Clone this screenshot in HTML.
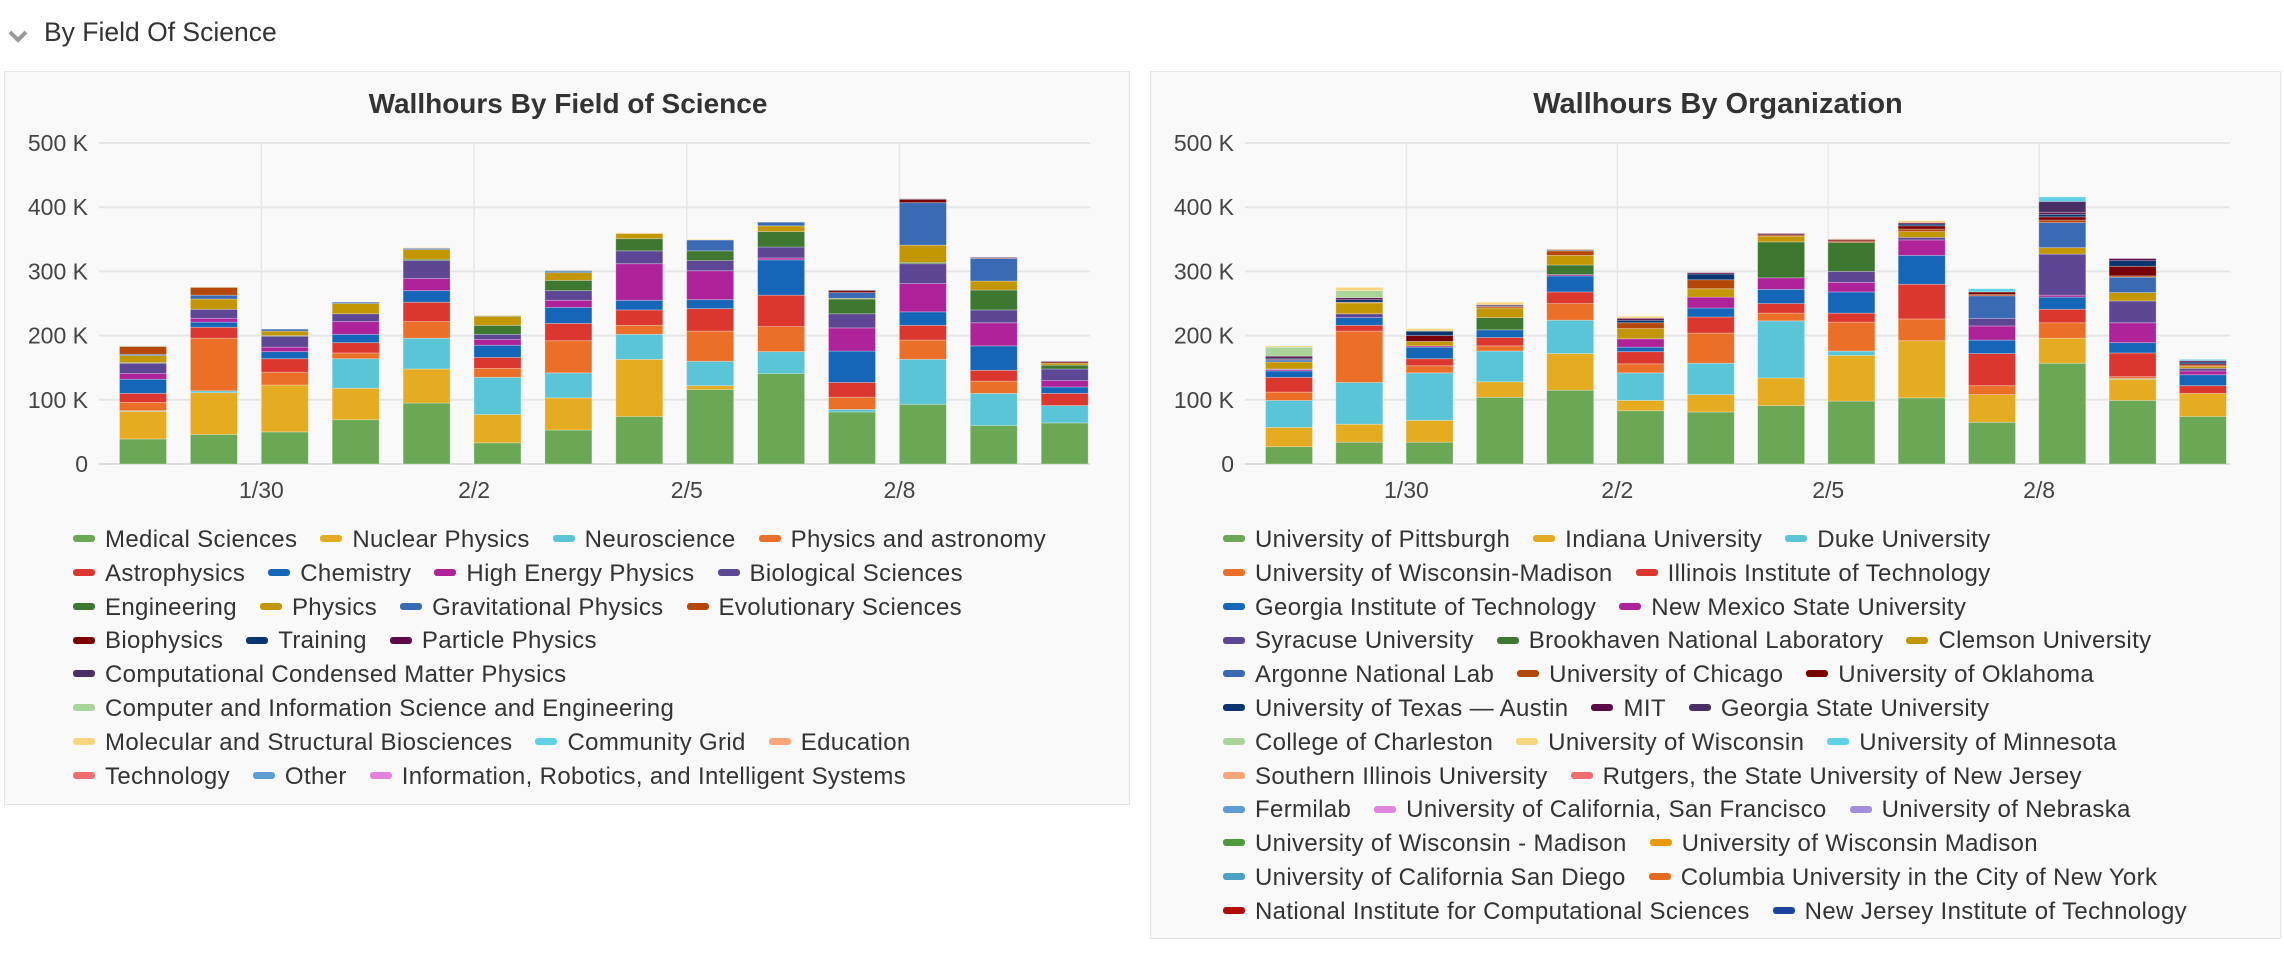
<!DOCTYPE html>
<html><head><meta charset="utf-8">
<style>
body{margin:0;width:2284px;height:960px;background:#fff;font-family:"Liberation Sans",sans-serif;position:relative;overflow:hidden;color:#333}
.hdr{position:absolute;left:44px;top:17px;font-size:26.5px;color:#333}
.panel{position:absolute;background:#f9f9f9;border:1px solid #e6e6e6;box-sizing:border-box}
.leg{position:absolute;font-size:24px;letter-spacing:0.35px;color:#333;white-space:nowrap}
.row{height:33.8px;line-height:33.8px}
.it{display:inline-block;margin-right:23px}
.mk{display:inline-block;width:22px;height:7px;border-radius:3px;margin-right:10px;vertical-align:middle;position:relative;top:-2px}
svg text{font-family:"Liberation Sans",sans-serif}
</style></head><body>
<svg style="position:absolute;left:8px;top:28px" width="20" height="16"><polyline points="2,4 10,12 18,4" fill="none" stroke="#999" stroke-width="4"/></svg>
<div class="hdr">By Field Of Science</div>
<div class="panel" style="left:4px;top:71px;width:1126px;height:734px"></div>
<div class="panel" style="left:1150px;top:71px;width:1131px;height:868px"></div>
<svg id="svg" style="position:absolute;left:0;top:0" width="2284" height="960"></svg>
<div id="leg1" class="leg" style="left:73px;top:523px"></div>
<div id="leg2" class="leg" style="left:1223px;top:523px"></div>
<script>
const fieldNames=["Medical Sciences","Nuclear Physics","Neuroscience","Physics and astronomy","Astrophysics","Chemistry","High Energy Physics","Biological Sciences","Engineering","Physics","Gravitational Physics","Evolutionary Sciences","Biophysics","Training","Particle Physics","Computational Condensed Matter Physics","Computer and Information Science and Engineering","Molecular and Structural Biosciences","Community Grid","Education","Technology","Other","Information, Robotics, and Intelligent Systems"];
const fieldColors=["#6ba855","#e5ac21","#5bc5d8","#ec6f28","#dc372f","#1566b9","#ae229a","#5d4795","#3e7730","#c39704","#3a6ab3","#b44709","#7a0000","#0a3571","#5b0a45","#4a2f66","#a9d59b","#f8d57e","#5ed1e5","#f6a679","#ef6e72","#5d9dd6","#e283e0"];
const fieldRows=[[0,1,2,3],[4,5,6,7],[8,9,10,11],[12,13,14],[15],[16],[17,18,19],[20,21,22]];
// values in K wallhours, one array per day
const fieldData=[
[39,43,1,13,14,22,9,16,1,11,2,12,0,0,0,0,1,0],
[46,65,3,82,17,8,6,14,0,16,6,12,0,0,0,0,0,0],
[50,73,0,20,21,11,7,17,1,7,3,0,0,0,0,0,0,0],
[69,49,46,9,16,13,20,12,0,16,2,0,0,0,0,0,0,0],
[95,53,48,26,30,18,19,28,2,15,2,0,0,0,0,0,0,1],
[33,44,58,14,17,19,9,8,14,14,1,0,0,0,0,0,0,1],
[53,50,39,50,27,25,11,15,16,12,2,0,0,1,0,0,0,0],
[74,89,39,14,24,15,57,20,19,8,0,0,0,0,0,0,0,1],
[116,6,38,47,35,14,45,16,15,0,17,0,0,0,0,0,0,1],
[141,0,34,39,49,55,3,17,24,9,5,0,0,1,0,0,0,0],
[81,0,4,19,23,49,36,22,23,1,9,0,3,0,0,1,0,0],
[93,0,70,30,23,21,44,31,2,27,66,0,5,0,0,1,0,0],
[60,0,50,19,17,38,36,20,31,14,35,0,1,0,0,1,0,0],
[64,0,27,0,19,10,10,18,6,3,0,0,2,0,0,1,0,0]];
const orgNames=["University of Pittsburgh","Indiana University","Duke University","University of Wisconsin-Madison","Illinois Institute of Technology","Georgia Institute of Technology","New Mexico State University","Syracuse University","Brookhaven National Laboratory","Clemson University","Argonne National Lab","University of Chicago","University of Oklahoma","University of Texas — Austin","MIT","Georgia State University","College of Charleston","University of Wisconsin","University of Minnesota","Southern Illinois University","Rutgers, the State University of New Jersey","Fermilab","University of California, San Francisco","University of Nebraska","University of Wisconsin - Madison","University of Wisconsin Madison","University of California San Diego","Columbia University in the City of New York","National Institute for Computational Sciences","New Jersey Institute of Technology"];
const orgColors=["#6ba855","#e5ac21","#5bc5d8","#ec6f28","#dc372f","#1566b9","#ae229a","#5d4795","#3e7730","#c39704","#3a6ab3","#b44709","#7a0000","#0a3571","#5b0a45","#4a2f66","#a9d59b","#f8d57e","#5ed1e5","#f6a679","#ef6e72","#5d9dd6","#e283e0","#a48fdf","#4d9b3a","#e89a0e","#4ba0c3","#e56b1f","#b00c0c","#1d43a2"];
const orgRows=[[0,1,2],[3,4],[5,6],[7,8,9],[10,11,12],[13,14,15],[16,17,18],[19,20],[21,22,23],[24,25],[26,27],[28,29]];
const orgData=[
[27,30,42,13,23,10,2,1,0,11,3,0,1,2,3,0,14,2],
[34,28,65,80,9,12,0,6,0,17,0,1,0,4,3,0,11,5],
[34,34,74,11,11,18,2,0,0,7,0,0,9,7,0,0,0,4],
[104,24,48,8,13,12,0,0,19,15,0,2,0,0,1,2,0,4],
[115,57,52,26,18,25,2,0,15,15,0,7,0,1,1,0,0,1],
[83,16,43,14,19,7,13,0,0,16,0,9,0,4,3,0,0,3],
[81,27,49,47,25,14,17,0,0,13,0,14,0,9,2,0,0,0],
[91,43,89,12,15,22,18,0,56,9,0,2,0,0,2,0,0,0],
[98,71,7,45,14,33,15,17,45,0,0,2,2,0,1,0,0,1],
[103,89,0,34,54,45,24,4,0,9,0,4,5,3,2,0,0,3],
[65,43,0,14,50,21,22,12,0,0,35,2,4,0,0,0,0,0,5],
[157,39,0,24,21,19,3,64,0,10,39,4,5,4,3,17,0,0,7],
[99,33,1,3,37,16,31,34,0,13,24,2,15,9,3,0,0,0,0],
[74,36,0,0,12,17,6,4,0,3,0,2,2,3,2,0,0,0,2]];
const yTicks=[0,100,200,300,400,500];
const yTickLabels=["0","100 K","200 K","300 K","400 K","500 K"];
const xTickLabels=["1/30","2/2","2/5","2/8"];
const xTickPos=[1.67,4.67,7.67,10.67];

const NS="http://www.w3.org/2000/svg";
const svg=document.getElementById('svg');
function el(t,a,p){const e=document.createElementNS(NS,t);for(const k in a)e.setAttribute(k,a[k]);(p||svg).appendChild(e);return e;}
function chart(cfg){
  const g=el('g',{});
  
  
  const y=v=>464-(v/500)*321;
  const x=i=>cfg.x0+i*cfg.dx;
  const t=el('text',{x:cfg.tx,y:113,'text-anchor':'middle','font-size':cfg.tfs,'font-weight':'bold',fill:'#333'},g);
  
  
  t.textContent=cfg.title;
  yTicks.forEach((v,k)=>{
    const l=el('line',{x1:cfg.px0,x2:cfg.px1,y1:y(v),y2:y(v),stroke:k==0?'#ddd':'#e6e6e6','stroke-width':2},g);
    
    
    const tx=el('text',{x:cfg.lx,y:y(v)+8,'text-anchor':'end','font-size':23,fill:'#444'},g);
    
    
    tx.textContent=yTickLabels[k];
  });
  xTickPos.forEach((p,k)=>{
    const l=el('line',{x1:x(p),x2:x(p),y1:y(500),y2:y(0),stroke:'#e8e8e8','stroke-width':1.5},g);
    
    
    const tx=el('text',{x:x(p),y:498,'text-anchor':'middle','font-size':23,fill:'#444'},g);
    
    
    tx.textContent=xTickLabels[k];
  });
  cfg.data.forEach((vals,i)=>{
    let acc=0;
    vals.forEach((v,s)=>{
      if(v<=0)return;
      const r=el('rect',{x:x(i)-23.5,width:47,y:y(acc+v),height:y(acc)-y(acc+v),fill:cfg.colors[s],stroke:'rgba(255,255,255,0.35)','stroke-width':0.8},g);
      
      
      acc+=v;
    });
  });
  const lg=document.getElementById(cfg.leg);
  cfg.rows.forEach(row=>{
    const d=document.createElement('div');d.className='row';
    
    
    row.forEach(s=>{
      const it=document.createElement('span');it.className='it';
      
      
      it.innerHTML='<span class="mk" style="background:'+cfg.colors[s]+'"></span>'+cfg.names[s];
      d.appendChild(it);
    });
    lg.appendChild(d);
  });
}
chart({name:'field-of-science-chart',title:'Wallhours By Field of Science',tfs:28,tx:568,x0:143,dx:70.9,px0:99,px1:1090,lx:88,data:fieldData,colors:fieldColors,names:fieldNames,rows:fieldRows,leg:'leg1'});
chart({name:'organization-chart',title:'Wallhours By Organization',tfs:29,tx:1718,x0:1289,dx:70.3,px0:1245,px1:2230,lx:1234,data:orgData,colors:orgColors,names:orgNames,rows:orgRows,leg:'leg2'});
</script>
</body></html>
